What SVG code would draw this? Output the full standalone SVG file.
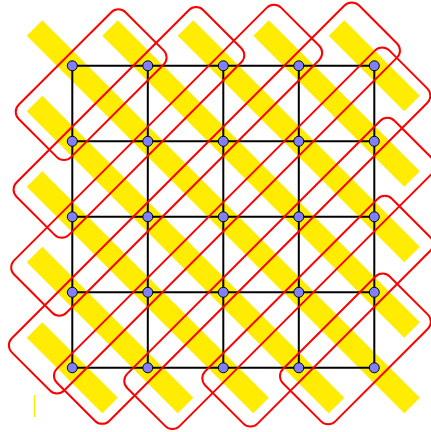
<svg xmlns="http://www.w3.org/2000/svg" width="431" height="432" viewBox="0 0 431 432">
<style>
.band{stroke:#ffec00;stroke-width:22;stroke-linecap:butt;fill:none}
.grp{fill:none;stroke:#ff0000;stroke-width:2}
.edge{stroke:#000;stroke-width:2;stroke-linecap:butt}
.node{fill:#8080ff;stroke:#000;stroke-width:1}
</style>
<rect width="431" height="432" fill="#fff"/>
<line x1="34.5" y1="395" x2="34.5" y2="417" stroke="#ffec00" stroke-width="1.5"/>
<g transform="translate(72.3 65.8)">
<g id="bands">
<line class="band" x1="-37.75" y1="-37.75" x2="339.75" y2="339.75"/>
<line class="band" x1="37.75" y1="-37.75" x2="339.75" y2="264.25"/>
<line class="band" x1="113.25" y1="-37.75" x2="339.75" y2="188.75"/>
<line class="band" x1="188.75" y1="-37.75" x2="339.75" y2="113.25"/>
<line class="band" x1="264.25" y1="-37.75" x2="339.75" y2="37.75"/>
<line class="band" x1="-37.75" y1="37.75" x2="264.25" y2="339.75"/>
<line class="band" x1="-37.75" y1="113.25" x2="188.75" y2="339.75"/>
<line class="band" x1="-37.75" y1="188.75" x2="113.25" y2="339.75"/>
<line class="band" x1="-37.75" y1="264.25" x2="37.75" y2="339.75"/>
</g>
<g id="connectors">
<line class="edge" x1="0" y1="0" x2="75.5" y2="0"/><line class="edge" x1="75.5" y1="0" x2="151" y2="0"/><line class="edge" x1="151" y1="0" x2="226.5" y2="0"/><line class="edge" x1="226.5" y1="0" x2="302" y2="0"/>
<line class="edge" x1="0" y1="75.5" x2="75.5" y2="75.5"/><line class="edge" x1="75.5" y1="75.5" x2="151" y2="75.5"/><line class="edge" x1="151" y1="75.5" x2="226.5" y2="75.5"/><line class="edge" x1="226.5" y1="75.5" x2="302" y2="75.5"/>
<line class="edge" x1="0" y1="151" x2="75.5" y2="151"/><line class="edge" x1="75.5" y1="151" x2="151" y2="151"/><line class="edge" x1="151" y1="151" x2="226.5" y2="151"/><line class="edge" x1="226.5" y1="151" x2="302" y2="151"/>
<line class="edge" x1="0" y1="226.5" x2="75.5" y2="226.5"/><line class="edge" x1="75.5" y1="226.5" x2="151" y2="226.5"/><line class="edge" x1="151" y1="226.5" x2="226.5" y2="226.5"/><line class="edge" x1="226.5" y1="226.5" x2="302" y2="226.5"/>
<line class="edge" x1="0" y1="302" x2="75.5" y2="302"/><line class="edge" x1="75.5" y1="302" x2="151" y2="302"/><line class="edge" x1="151" y1="302" x2="226.5" y2="302"/><line class="edge" x1="226.5" y1="302" x2="302" y2="302"/>
<line class="edge" x1="0" y1="0" x2="0" y2="75.5"/><line class="edge" x1="0" y1="75.5" x2="0" y2="151"/><line class="edge" x1="0" y1="151" x2="0" y2="226.5"/><line class="edge" x1="0" y1="226.5" x2="0" y2="302"/>
<line class="edge" x1="75.5" y1="0" x2="75.5" y2="75.5"/><line class="edge" x1="75.5" y1="75.5" x2="75.5" y2="151"/><line class="edge" x1="75.5" y1="151" x2="75.5" y2="226.5"/><line class="edge" x1="75.5" y1="226.5" x2="75.5" y2="302"/>
<line class="edge" x1="151" y1="0" x2="151" y2="75.5"/><line class="edge" x1="151" y1="75.5" x2="151" y2="151"/><line class="edge" x1="151" y1="151" x2="151" y2="226.5"/><line class="edge" x1="151" y1="226.5" x2="151" y2="302"/>
<line class="edge" x1="226.5" y1="0" x2="226.5" y2="75.5"/><line class="edge" x1="226.5" y1="75.5" x2="226.5" y2="151"/><line class="edge" x1="226.5" y1="151" x2="226.5" y2="226.5"/><line class="edge" x1="226.5" y1="226.5" x2="226.5" y2="302"/>
<line class="edge" x1="302" y1="0" x2="302" y2="75.5"/><line class="edge" x1="302" y1="75.5" x2="302" y2="151"/><line class="edge" x1="302" y1="151" x2="302" y2="226.5"/><line class="edge" x1="302" y1="226.5" x2="302" y2="302"/>
</g>
<g id="groups">
<rect class="grp" transform="translate(18.875 18.875) rotate(-45)" x="-75.5" y="-37" width="151" height="74" rx="10"/>
<rect class="grp" transform="translate(56.625 56.625) rotate(-45)" x="-132" y="-37" width="264" height="74" rx="10"/>
<rect class="grp" transform="translate(94.375 94.375) rotate(-45)" x="-188.75" y="-37" width="377.5" height="74" rx="10"/>
<rect class="grp" transform="translate(132.125 132.125) rotate(-45)" x="-245.4" y="-37" width="490.8" height="74" rx="10"/>
<rect class="grp" transform="translate(169.875 169.875) rotate(-45)" x="-235" y="-37" width="470" height="74" rx="10"/>
<rect class="grp" transform="translate(207.625 207.625) rotate(-45)" x="-189" y="-37" width="378" height="74" rx="10"/>
<rect class="grp" transform="translate(245.375 245.375) rotate(-45)" x="-132" y="-37" width="264" height="74" rx="10"/>
<rect class="grp" transform="translate(283.125 283.125) rotate(-45)" x="-75.5" y="-37" width="151" height="74" rx="10"/>
</g>
<g id="n00"><circle class="node" cx="0" cy="0" r="5"/></g>
<g id="n10"><circle class="node" cx="75.5" cy="0" r="5"/></g>
<g id="n20"><circle class="node" cx="151" cy="0" r="5"/></g>
<g id="n30"><circle class="node" cx="226.5" cy="0" r="5"/></g>
<g id="n40"><circle class="node" cx="302" cy="0" r="5"/></g>
<g id="n01"><circle class="node" cx="0" cy="75.5" r="5"/></g>
<g id="n11"><circle class="node" cx="75.5" cy="75.5" r="5"/></g>
<g id="n21"><circle class="node" cx="151" cy="75.5" r="5"/></g>
<g id="n31"><circle class="node" cx="226.5" cy="75.5" r="5"/></g>
<g id="n41"><circle class="node" cx="302" cy="75.5" r="5"/></g>
<g id="n02"><circle class="node" cx="0" cy="151" r="5"/></g>
<g id="n12"><circle class="node" cx="75.5" cy="151" r="5"/></g>
<g id="n22"><circle class="node" cx="151" cy="151" r="5"/></g>
<g id="n32"><circle class="node" cx="226.5" cy="151" r="5"/></g>
<g id="n42"><circle class="node" cx="302" cy="151" r="5"/></g>
<g id="n03"><circle class="node" cx="0" cy="226.5" r="5"/></g>
<g id="n13"><circle class="node" cx="75.5" cy="226.5" r="5"/></g>
<g id="n23"><circle class="node" cx="151" cy="226.5" r="5"/></g>
<g id="n33"><circle class="node" cx="226.5" cy="226.5" r="5"/></g>
<g id="n43"><circle class="node" cx="302" cy="226.5" r="5"/></g>
<g id="n04"><circle class="node" cx="0" cy="302" r="5"/></g>
<g id="n14"><circle class="node" cx="75.5" cy="302" r="5"/></g>
<g id="n24"><circle class="node" cx="151" cy="302" r="5"/></g>
<g id="n34"><circle class="node" cx="226.5" cy="302" r="5"/></g>
<g id="n44"><circle class="node" cx="302" cy="302" r="5"/></g>
</g>
</svg>
